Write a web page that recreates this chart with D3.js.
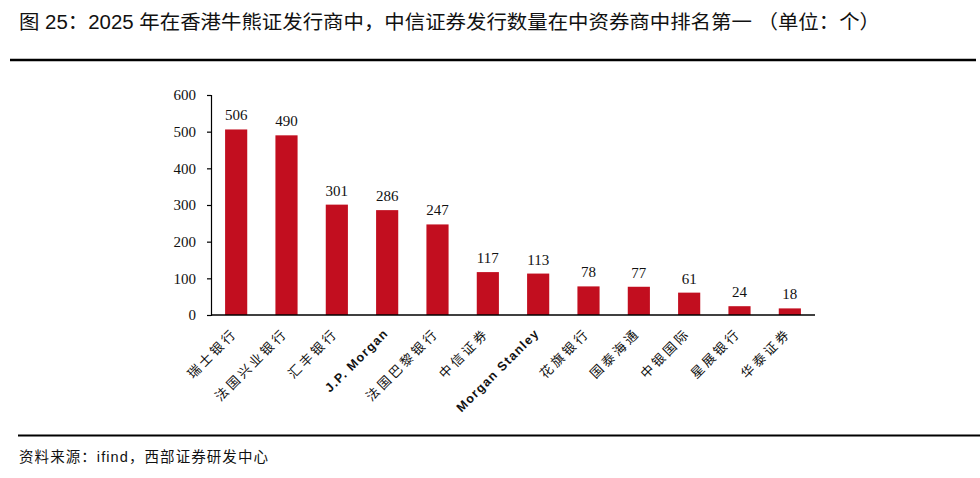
<!DOCTYPE html>
<html>
<head>
<meta charset="utf-8">
<script src="https://cdn.jsdelivr.net/npm/d3@7"></script>
<style>
  body { margin: 0; background: #fff; }
  svg { display: block; }
</style>
</head>
<body>
<svg id="chart" width="980" height="478"></svg>
<script>
// Issuers and number of bull/bear certificates issued in 2025
const issuers = ['瑞士银行', '法国兴业银行', '汇丰银行', 'J.P. Morgan', '法国巴黎银行', '中信证券',
                 'Morgan Stanley', '花旗银行', '国泰海通', '中银国际', '星展银行', '华泰证券'];
const counts = [506, 490, 301, 286, 247, 117, 113, 78, 77, 61, 24, 18];
const yTicks = [0, 100, 200, 300, 400, 500, 600];

const title = '图 25：2025 年在香港牛熊证发行商中，中信证券发行数量在中资券商中排名第一 （单位：个）';
const source = '资料来源：ifind，西部证券研发中心';

const svg = d3.select('#chart');
const cjk = '"Liberation Sans", Arial, "Noto Sans CJK SC", sans-serif';
const serif = '"Liberation Serif", "Times New Roman", serif';

// Title and rules
svg.append('text')
    .attr('x', 19).attr('y', 29)
    .attr('font-family', cjk)
    .attr('font-size', 19.5)
    .attr('textLength', 861)
    .attr('lengthAdjust', 'spacingAndGlyphs')
    .attr('fill', '#111')
    .text(title);

svg.append('line')
    .attr('x1', 10).attr('x2', 976)
    .attr('y1', 60).attr('y2', 60)
    .attr('stroke', '#000').attr('stroke-width', 2.5);

svg.append('line')
    .attr('x1', 18).attr('x2', 980)
    .attr('y1', 435.5).attr('y2', 435.5)
    .attr('stroke', '#000').attr('stroke-width', 2);

svg.append('text')
    .attr('x', 19).attr('y', 462)
    .attr('font-family', cjk)
    .attr('font-size', 14.5)
    .attr('textLength', 249)
    .attr('lengthAdjust', 'spacing')
    .attr('fill', '#111')
    .text(source);

// Plot area
const plotLeft = 211, plotRight = 815, plotTop = 95, plotBottom = 315;

const x = d3.scaleBand()
    .domain(issuers)
    .range([plotLeft, plotRight])
    .paddingInner(0.56)
    .paddingOuter(0.28);

const y = d3.scaleLinear()
    .domain([0, 600])
    .range([plotBottom, plotTop]);

// Bars
svg.append('g').selectAll('rect')
    .data(issuers)
    .join('rect')
    .attr('x', d => x(d))
    .attr('width', x.bandwidth())
    .attr('y', (d, i) => y(counts[i]))
    .attr('height', (d, i) => y(0) - y(counts[i]))
    .attr('fill', '#C20E1F');

// Value labels
svg.append('g').selectAll('text')
    .data(issuers)
    .join('text')
    .attr('x', d => x(d) + x.bandwidth() / 2)
    .attr('y', (d, i) => y(counts[i]) - 9)
    .attr('text-anchor', 'middle')
    .attr('font-family', serif)
    .attr('font-size', 15)
    .attr('fill', '#111')
    .text((d, i) => counts[i]);

// Y axis
const yAxis = svg.append('g')
    .attr('transform', `translate(${plotLeft},0)`)
    .call(d3.axisLeft(y).tickValues(yTicks).tickSize(4).tickSizeOuter(4).tickPadding(11));
yAxis.select('.domain').attr('stroke', '#000').attr('stroke-width', 1.2);
yAxis.selectAll('.tick line').attr('stroke', '#000').attr('stroke-width', 1.2);
yAxis.selectAll('.tick text')
    .attr('font-family', serif)
    .attr('font-size', 15)
    .attr('fill', '#111');

// X axis baseline
svg.append('line')
    .attr('x1', plotLeft).attr('x2', plotRight)
    .attr('y1', plotBottom).attr('y2', plotBottom)
    .attr('stroke', '#000').attr('stroke-width', 1.5);

// Rotated category labels
const isLatin = d => /[A-Za-z]/.test(d);
svg.append('g').selectAll('text')
    .data(issuers)
    .join('text')
    .attr('transform', d => `translate(${x(d) + x.bandwidth() / 2 + 2},${plotBottom + 19}) rotate(-45)`)
    .attr('text-anchor', 'end')
    .attr('font-family', d => isLatin(d) ? '"Liberation Sans", Arial, sans-serif' : '"Noto Sans CJK SC", sans-serif')
    .attr('font-weight', d => isLatin(d) ? 'bold' : 'normal')
    .attr('font-size', d => isLatin(d) ? 12.5 : 13)
    .attr('letter-spacing', d => isLatin(d) ? 1.3 : 3)
    .attr('fill', '#111')
    .text(d => d);
</script>
</body>
</html>
